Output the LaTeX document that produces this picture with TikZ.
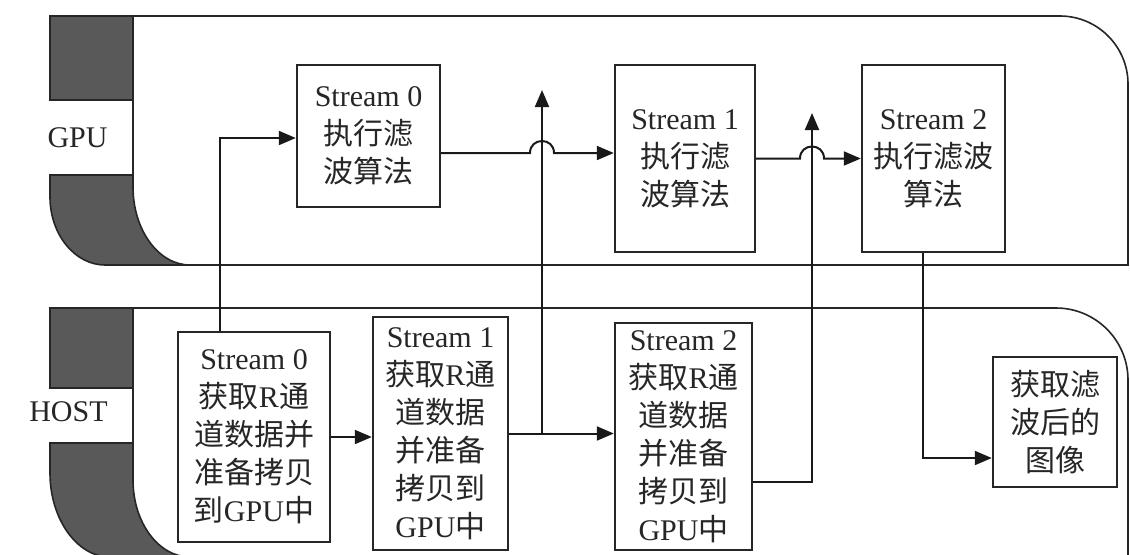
\documentclass[tikz,border=0pt]{standalone}
\usepackage{fontspec}
\setmainfont{Liberation Serif}
\newfontfamily\cjkfont{Noto Sans CJK SC}
\newcommand{\zh}[1]{{\cjkfont #1}}
\usetikzlibrary{arrows.meta}

\begin{document}
\begin{tikzpicture}[x=0.5pt,y=-0.5pt,
  lane/.style={line width=0.8pt, draw=black!85},
  shade/.style={fill=black!65, draw=black!85, line width=0.8pt},
  stepbox/.style={draw=black!85, line width=1.2pt, fill=white, inner sep=0pt,
    align=center, text=black!85, font=\fontsize{15}{19}\selectfont},
  flow/.style={line width=1pt, draw=black!90, -{Triangle[length=8.5pt,width=7pt]}},
  lanelabel/.style={anchor=east, inner sep=0pt, text=black!85,
    font=\fontsize{15}{18}\selectfont}
]
\useasboundingbox (0,0) rectangle (1130,554);
\clip (0,0) rectangle (1130,554);
\fill[white] (0,0) rectangle (1130,554);

% ---------- GPU lane ----------
\filldraw[shade] (50,16) rectangle (133,100);
\filldraw[shade] (50,175) -- (133,175) -- (133,187)
  .. controls (133,230) and (158.5,265) .. (190,265) -- (105,265)
  .. controls (75,265) and (50,234.5) .. (50,197) -- cycle;
\draw[lane] (133,175) -- (133,16) -- (1060,16)
  .. controls (1097.5,16) and (1128,46.5) .. (1128,84) -- (1128,265) -- (190,265);
\node[lanelabel] (gpu) at (108,138) {GPU};

% ---------- HOST lane ----------
\filldraw[shade] (50,308) rectangle (133,388);
\filldraw[shade] (50,443) -- (133,443) -- (133,480)
  .. controls (133,522.5) and (158.5,557) .. (190,557) -- (110,557)
  .. controls (77,557) and (50,519) .. (50,473) -- cycle;
\draw[lane] (133,443) -- (133,308) -- (1056,308)
  .. controls (1095.7,308) and (1128,340.3) .. (1128,380) -- (1128,557) -- (190,557);
\node[lanelabel] (host) at (108,412) {HOST};

% ---------- steps ----------
\node[stepbox, minimum width=71.5pt, minimum height=71pt] (g0) at (368.5,136)
  {Stream 0\\\zh{执行滤}\\\zh{波算法}};
\node[stepbox, minimum width=70pt, minimum height=93.5pt] (g1) at (685,158.5)
  {Stream 1\\\zh{执行滤}\\\zh{波算法}};
\node[stepbox, minimum width=71.5pt, minimum height=93.5pt] (g2) at (933.5,158.5)
  {Stream 2\\\zh{执行滤波}\\\zh{算法}};

\node[stepbox, minimum width=76pt, minimum height=105pt] (h0) at (254,437)
  {Stream 0\\\zh{获取}R\zh{通}\\\zh{道数据并}\\\zh{准备拷贝}\\\zh{到}GPU\zh{中}};
\node[stepbox, minimum width=67.5pt, minimum height=116.5pt] (h1) at (440.5,433.5)
  {Stream 1\\\zh{获取}R\zh{通}\\\zh{道数据}\\\zh{并准备}\\\zh{拷贝到}\\GPU\zh{中}};
\node[stepbox, minimum width=68.5pt, minimum height=113.5pt] (h2) at (683.5,436.5)
  {Stream 2\\\zh{获取}R\zh{通}\\\zh{道数据}\\\zh{并准备}\\\zh{拷贝到}\\GPU\zh{中}};
\node[stepbox, minimum width=62pt, minimum height=65pt] (b3) at (1055,422)
  {\zh{获取滤}\\\zh{波后的}\\\zh{图像}};

% ---------- routing points ----------
\coordinate (c0) at (220,138);
\coordinate (k1) at (542,153);
\coordinate (j1) at (542,433.5);
\coordinate (t1) at (542,90);
\coordinate (k2) at (812,158.5);
\coordinate (c2) at (812,482);
\coordinate (t2) at (812,113);
\coordinate (c3) at (923,458);

% ---------- connectors ----------
\draw[flow] (h0.north -| c0) -- (c0) -- (g0.west |- c0);
\draw[flow] (h0.east) -- (h1.west |- h0.east);
\draw[flow] (h1.east) -- (h2.west |- h1.east);
\draw[flow] (j1) -- (t1);
\draw[flow] (h2.east |- c2) -- (c2) -- (t2);
\draw[flow] (g0.east |- k1) -- ([xshift=-6pt]k1)
  .. controls ([xshift=-6pt,yshift=8pt]k1) and ([xshift=6pt,yshift=8pt]k1) .. ([xshift=6pt]k1)
  -- (g1.west |- k1);
\draw[flow] (g1.east) -- ([xshift=-6pt]k2)
  .. controls ([xshift=-6pt,yshift=8pt]k2) and ([xshift=6pt,yshift=8pt]k2) .. ([xshift=6pt]k2)
  -- (g2.west |- k2);
\draw[flow] (g2.south -| c3) -- (c3) -- (b3.west |- c3);
\end{tikzpicture}
\end{document}
